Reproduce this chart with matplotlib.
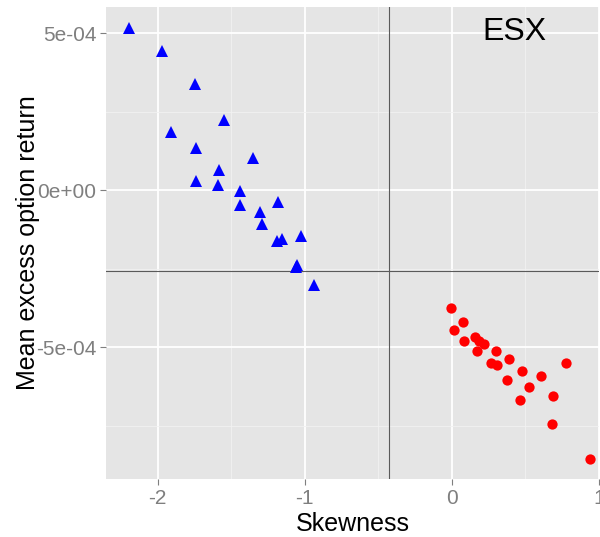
import matplotlib.pyplot as plt
from matplotlib.ticker import FixedLocator

plt.rcParams['font.family'] = ['Liberation Sans', 'DejaVu Sans']

# negative-skew group (triangles)
neg_skew = [-2.192, -1.970, -1.748, -1.547, -1.907, -1.739, -1.351, -1.583,
            -1.737, -1.587, -1.438, -1.184, -1.438, -1.304, -1.290, -1.188,
            -1.156, -1.023, -1.050, -1.059, -0.939]
neg_ret = [5.18e-4, 4.44e-4, 3.38e-4, 2.24e-4, 1.86e-4, 1.34e-4, 1.03e-4, 0.64e-4,
           0.29e-4, 0.17e-4, -0.02e-4, -0.36e-4, -0.47e-4, -0.68e-4, -1.06e-4, -1.61e-4,
           -1.54e-4, -1.45e-4, -2.36e-4, -2.45e-4, -3.01e-4]

# positive-skew group (circles)
pos_skew = [-0.007, 0.076, 0.013, 0.081, 0.156, 0.185, 0.221, 0.171, 0.298,
            0.387, 0.264, 0.309, 0.477, 0.373, 0.606, 0.774, 0.525, 0.462,
            0.688, 0.681, 0.937]
pos_ret = [-3.76e-4, -4.19e-4, -4.46e-4, -4.78e-4, -4.68e-4, -4.79e-4, -4.89e-4,
           -5.11e-4, -5.13e-4, -5.36e-4, -5.51e-4, -5.57e-4, -5.75e-4, -6.03e-4,
           -5.90e-4, -5.49e-4, -6.25e-4, -6.66e-4, -6.56e-4, -7.45e-4, -8.55e-4]

mean_skew = -0.427
mean_ret = -2.57e-4

x_ticks = [-2, -1, 0, 1]
x_labels = ['-2', '-1', '0', '1']
y_ticks = [5e-4, 0, -5e-4]
y_labels = ['5e-04', '0e+00', '-5e-04']

W, H = 600, 537
fig = plt.figure(figsize=(W / 100, H / 100), dpi=100)
ax = fig.add_axes([106 / W, 1 - 479.3 / H, (599 - 106) / W, (479.3 - 6.7) / H])

ax.set_facecolor('#E5E5E5')
for s in ax.spines.values():
    s.set_visible(False)

ax.set_xlim(-2.350, 1.0)
ax.set_ylim(-9.20e-4, 5.85e-4)

ax.xaxis.set_major_locator(FixedLocator(x_ticks))
ax.yaxis.set_major_locator(FixedLocator(y_ticks))
ax.set_xticklabels(x_labels)
ax.set_yticklabels(y_labels)
ax.xaxis.set_minor_locator(FixedLocator([-1.5, -0.5, 0.5]))
ax.yaxis.set_minor_locator(FixedLocator([2.5e-4, -2.5e-4, -7.5e-4]))

ax.grid(which='major', color='white', linewidth=1.3)
ax.grid(which='minor', color='#F2F2F2', linewidth=0.6)
ax.set_axisbelow(True)

ax.tick_params(which='major', length=4, width=0.8, color='#7F7F7F',
               labelcolor='#7F7F7F', labelsize=15, pad=3)
ax.tick_params(which='minor', length=0)

ax.axvline(mean_skew, color='#5A5A5A', linewidth=0.8, zorder=1.5)
ax.axhline(mean_ret, color='#5A5A5A', linewidth=0.8, zorder=1.5)

ax.plot(neg_skew, neg_ret, linestyle='none', marker='^', markersize=9,
        color='blue', markeredgewidth=0, zorder=3)
ax.plot(pos_skew, pos_ret, linestyle='none', marker='o', markersize=7.4,
        color='red', markeredgewidth=0, zorder=3)

ax.text(0.425, 5.06e-4, 'ESX', fontsize=23, ha='center', va='center', color='black')

ax.set_xlabel('Skewness', fontsize=18, labelpad=3)
ax.set_ylabel('Mean excess option return', fontsize=18)
ax.yaxis.set_label_coords((40 - 106) / (599 - 106), 0.5)

fig.savefig('out.png', dpi=100)
